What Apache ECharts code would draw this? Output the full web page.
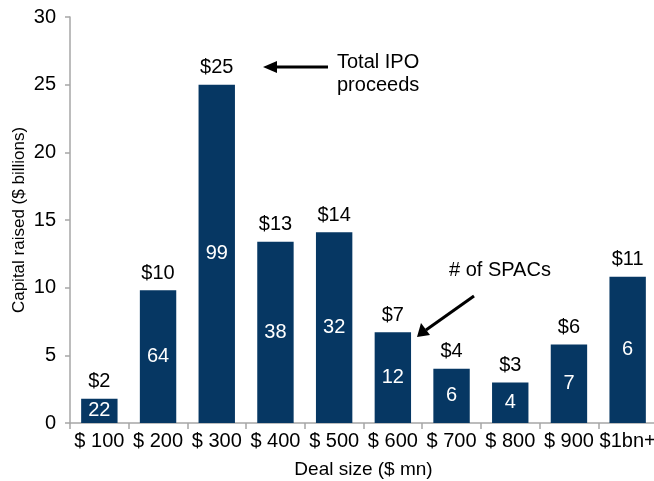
<!DOCTYPE html>
<html>
<head>
<meta charset="utf-8">
<script src="https://cdn.jsdelivr.net/npm/echarts@6/dist/echarts.min.js"></script>
<style>
  html, body { margin: 0; padding: 0; background: #fff; }
  #chart { width: 654px; height: 481px; }
</style>
</head>
<body>
<div id="chart"></div>
<script>
// 交易规模分类
const dealSizes = ['$ 100', '$ 200', '$ 300', '$ 400', '$ 500', '$ 600', '$ 700', '$ 800', '$ 900', '$1bn+'];
// 募资总额（十亿美元）
const capitalRaised = [1.8, 9.8, 25.0, 13.4, 14.1, 6.7, 4.0, 3.0, 5.8, 10.8];
// SPAC 数量
const spacCounts = [22, 64, 99, 38, 32, 12, 6, 4, 7, 6];
// y 轴刻度
const yTicks = [0, 5, 10, 15, 20, 25, 30];

const FONT = '"Liberation Sans", Arial, sans-serif';
const NAVY = '#063763';

const chart = echarts.init(document.getElementById('chart'));

const option = {
  animation: false,
  grid: { left: 70, right: -3, top: 17, bottom: 58, containLabel: false, outerBoundsMode: 'none' },
  xAxis: {
    type: 'category',
    data: dealSizes,
    name: 'Deal size ($ mn)',
    nameLocation: 'middle',
    nameGap: 37,
    nameTextStyle: { fontFamily: FONT, fontSize: 19, color: '#000' },
    axisLine: { lineStyle: { color: '#a6a6a6', width: 1.5 } },
    axisTick: { show: true, length: 6, lineStyle: { color: '#a6a6a6', width: 1.5 } },
    axisLabel: { fontFamily: FONT, fontSize: 20, color: '#000', margin: 8, interval: 0 }
  },
  yAxis: {
    type: 'value',
    min: yTicks[0],
    max: yTicks[yTicks.length - 1],
    interval: 5,
    name: 'Capital raised ($ billions)',
    nameLocation: 'middle',
    nameGap: 42,
    nameMoveOverlap: false,
    nameTextStyle: { fontFamily: FONT, fontSize: 17, color: '#000' },
    splitLine: { show: false },
    axisLine: { show: true, lineStyle: { color: '#a6a6a6', width: 1.5 } },
    axisTick: { show: true, length: 5, lineStyle: { color: '#a6a6a6', width: 1.5 } },
    axisLabel: { fontFamily: FONT, fontSize: 20, color: '#000', margin: 14 }
  },
  series: [
    {
      // 柱内标签：SPAC 数量
      type: 'bar',
      data: capitalRaised,
      barCategoryGap: '38%',
      itemStyle: { color: NAVY },
      label: {
        show: true,
        position: 'inside',
        fontFamily: FONT,
        fontSize: 20,
        color: '#fff',
        formatter: p => String(spacCounts[p.dataIndex])
      },
      z: 2
    },
    {
      // 柱顶标签：募资总额
      type: 'bar',
      data: capitalRaised,
      barGap: '-100%',
      barCategoryGap: '38%',
      itemStyle: { color: 'rgba(0,0,0,0)' },
      label: {
        show: true,
        position: 'top',
        distance: 7,
        fontFamily: FONT,
        fontSize: 20,
        color: '#000',
        formatter: p => '$' + Math.round(p.value)
      },
      silent: true,
      z: 3
    }
  ],
  graphic: [
    {
      type: 'text', left: 337, top: 51,
      style: { text: 'Total IPO\nproceeds', font: '20px ' + FONT, fill: '#000', lineHeight: 23 }
    },
    { type: 'line', shape: { x1: 328, y1: 67, x2: 274, y2: 67 }, style: { stroke: '#000', lineWidth: 3 } },
    { type: 'polygon', shape: { points: [[263, 67], [277, 61], [277, 73]] }, style: { fill: '#000' } },
    {
      type: 'text', left: 449, top: 260,
      style: { text: '# of SPACs', font: '20px ' + FONT, fill: '#000' }
    },
    { type: 'line', shape: { x1: 474, y1: 296, x2: 426, y2: 330 }, style: { stroke: '#000', lineWidth: 3 } },
    { type: 'polygon', shape: { points: [[417, 337], [421, 323], [430, 335]] }, style: { fill: '#000' } }
  ]
};

chart.setOption(option);
window.addEventListener('resize', () => chart.resize());
</script>
</body>
</html>
